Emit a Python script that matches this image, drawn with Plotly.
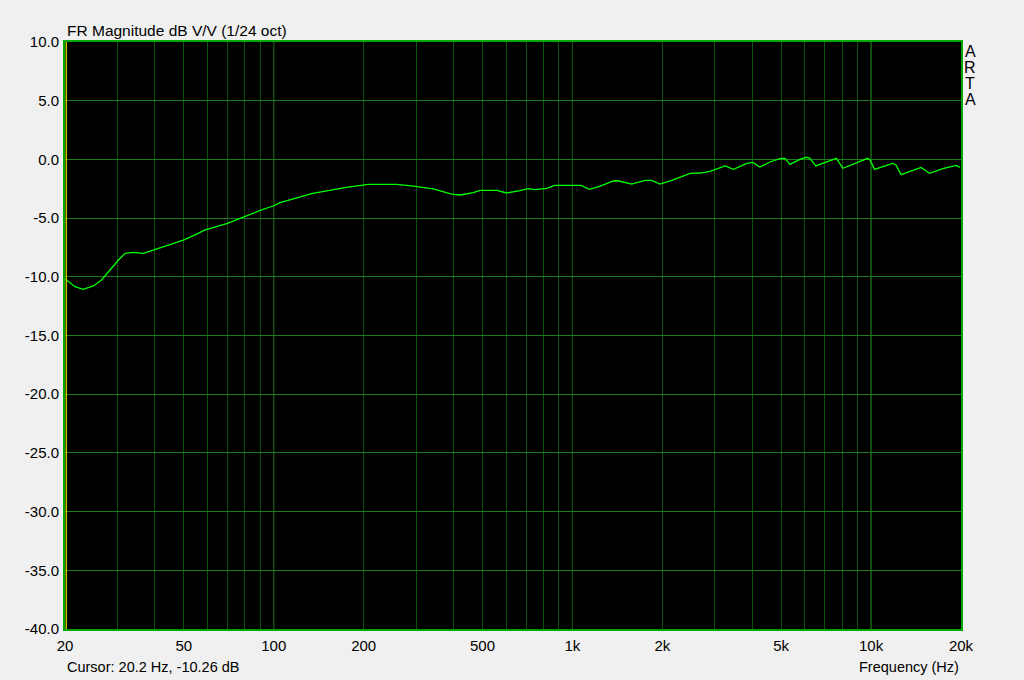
import plotly.graph_objects as go

# ---- data ----
freq_hz = [20, 20.2, 21.6, 22.3, 23.0, 24.9, 26.5, 28.3, 30.2, 31.8, 33.9, 36.6, 39.5,
           43.8, 49.8, 55.2, 58.9, 70, 80, 90, 100, 105, 135, 175, 207, 258, 293, 342,
           394, 421, 466, 491, 558, 602, 667, 711, 748, 820, 872, 1068, 1140, 1232, 1370,
           1420, 1578, 1750, 1842, 1966, 2152, 2478, 2676, 2890, 3246, 3462, 3834, 4016,
           4244, 4584, 4950, 5146, 5348, 5776, 6078, 6240, 6528, 7088, 7650, 8048, 8912,
           9742, 9925, 10262, 11812, 12100, 12600, 13440, 14700, 15690, 17380, 19260, 19800]
mag_db = [-10.2, -10.26, -10.84, -10.98, -11.07, -10.78, -10.27, -9.42, -8.57, -8.0, -7.92,
          -8.0, -7.72, -7.29, -6.87, -6.36, -6.01, -5.45, -4.85, -4.35, -3.95, -3.69, -2.89,
          -2.38, -2.12, -2.12, -2.27, -2.52, -2.95, -3.03, -2.83, -2.63, -2.63, -2.86, -2.66,
          -2.49, -2.57, -2.46, -2.21, -2.21, -2.55, -2.3, -1.84, -1.82, -2.1, -1.79, -1.79,
          -2.10, -1.79, -1.19, -1.16, -1.02, -0.56, -0.85, -0.34, -0.25, -0.65, -0.22, 0.06,
          0.09, -0.42, 0.0, 0.18, 0.09, -0.56, -0.22, 0.09, -0.76, -0.28, 0.09, -0.05, -0.85,
          -0.34, -0.45, -1.30, -1.05, -0.68, -1.19, -0.79, -0.51, -0.68]

grid_freqs = [20, 30, 40, 50, 60, 70, 80, 90, 100, 200, 300, 400, 500, 600, 700, 800, 900,
              1000, 2000, 3000, 4000, 5000, 6000, 7000, 8000, 9000, 10000, 20000]
labeled = {20: "20", 50: "50", 100: "100", 200: "200", 500: "500", 1000: "1k",
           2000: "2k", 5000: "5k", 10000: "10k", 20000: "20k"}
decade_freqs = [100, 1000, 10000]
y_ticks = [-40, -35, -30, -25, -20, -15, -10, -5, 0, 5, 10]
cursor_freq = 20.2

title_text = "FR Magnitude dB V/V (1/24 oct)"
cursor_text = "Cursor: 20.2 Hz, -10.26 dB"
xlabel_text = "Frequency (Hz)"
brand_letters = ["A", "R", "T", "A"]

FONT = "Liberation Sans, Arial, sans-serif"

fig = go.Figure()
fig.add_trace(go.Scatter(x=freq_hz, y=mag_db, mode="lines",
                         line=dict(color="#00ff00", width=1.3), hoverinfo="skip"))

shapes = []
for f in decade_freqs:
    shapes.append(dict(type="line", xref="x", yref="paper", x0=f, x1=f, y0=0, y1=1,
                       line=dict(color="#3f9a3f", width=1), layer="between"))
shapes.append(dict(type="line", xref="x", yref="paper", x0=cursor_freq, x1=cursor_freq,
                   y0=0, y1=1, line=dict(color="#c8c800", width=1.5), layer="above"))

annotations = [
    dict(text=title_text, xref="paper", yref="paper", x=0, y=1, xanchor="left",
         yanchor="bottom", yshift=1, xshift=0, showarrow=False,
         font=dict(family=FONT, size=15.5, color="#000000")),
    dict(text=cursor_text, xref="paper", yref="paper", x=0, y=0, xanchor="left",
         yanchor="top", yshift=-28, showarrow=False,
         font=dict(family=FONT, size=14.5, color="#000000")),
    dict(text=xlabel_text, xref="paper", yref="paper", x=1, y=0, xanchor="right",
         yanchor="top", yshift=-28, showarrow=False,
         font=dict(family=FONT, size=14.5, color="#000000")),
]
for i, ch in enumerate(brand_letters):
    annotations.append(dict(text=ch, xref="paper", yref="paper", x=1, y=1,
                            xanchor="center", yanchor="middle", xshift=9,
                            yshift=-9 - 16.3 * i, showarrow=False,
                            font=dict(family=FONT, size=16, color="#000000")))

fig.update_layout(
    width=1024, height=680,
    margin=dict(l=65, r=63, t=42, b=51),
    paper_bgcolor="#f0f0f0", plot_bgcolor="#000000",
    showlegend=False,
    font=dict(family=FONT, size=15, color="#000000"),
    shapes=shapes,
    xaxis=dict(type="log", range=[1.30103, 4.30103],
               tickvals=grid_freqs,
               ticktext=[labeled.get(f, "") for f in grid_freqs],
               tickfont=dict(size=15),
               showgrid=True, gridcolor="#0b520b", gridwidth=1,
               showline=True, linecolor="#00a800", linewidth=2, mirror=True,
               ticks="", ticklabelstandoff=2, zeroline=False, fixedrange=True),
    yaxis=dict(range=[-40, 10], tickvals=y_ticks,
               ticktext=[f"{v:.1f}" for v in y_ticks],
               tickfont=dict(size=15),
               showgrid=True, gridcolor="#1d7a1d", gridwidth=1,
               showline=True, linecolor="#00a800", linewidth=2, mirror=True,
               ticks="", ticklabelstandoff=1, zeroline=False, fixedrange=True),
    annotations=annotations,
)

fig.write_html("out.html", config={"displayModeBar": False},
               post_script="document.body.style.margin='0';"
                           "document.body.style.background='#f0f0f0';"
                           "document.body.style.overflow='hidden';")
